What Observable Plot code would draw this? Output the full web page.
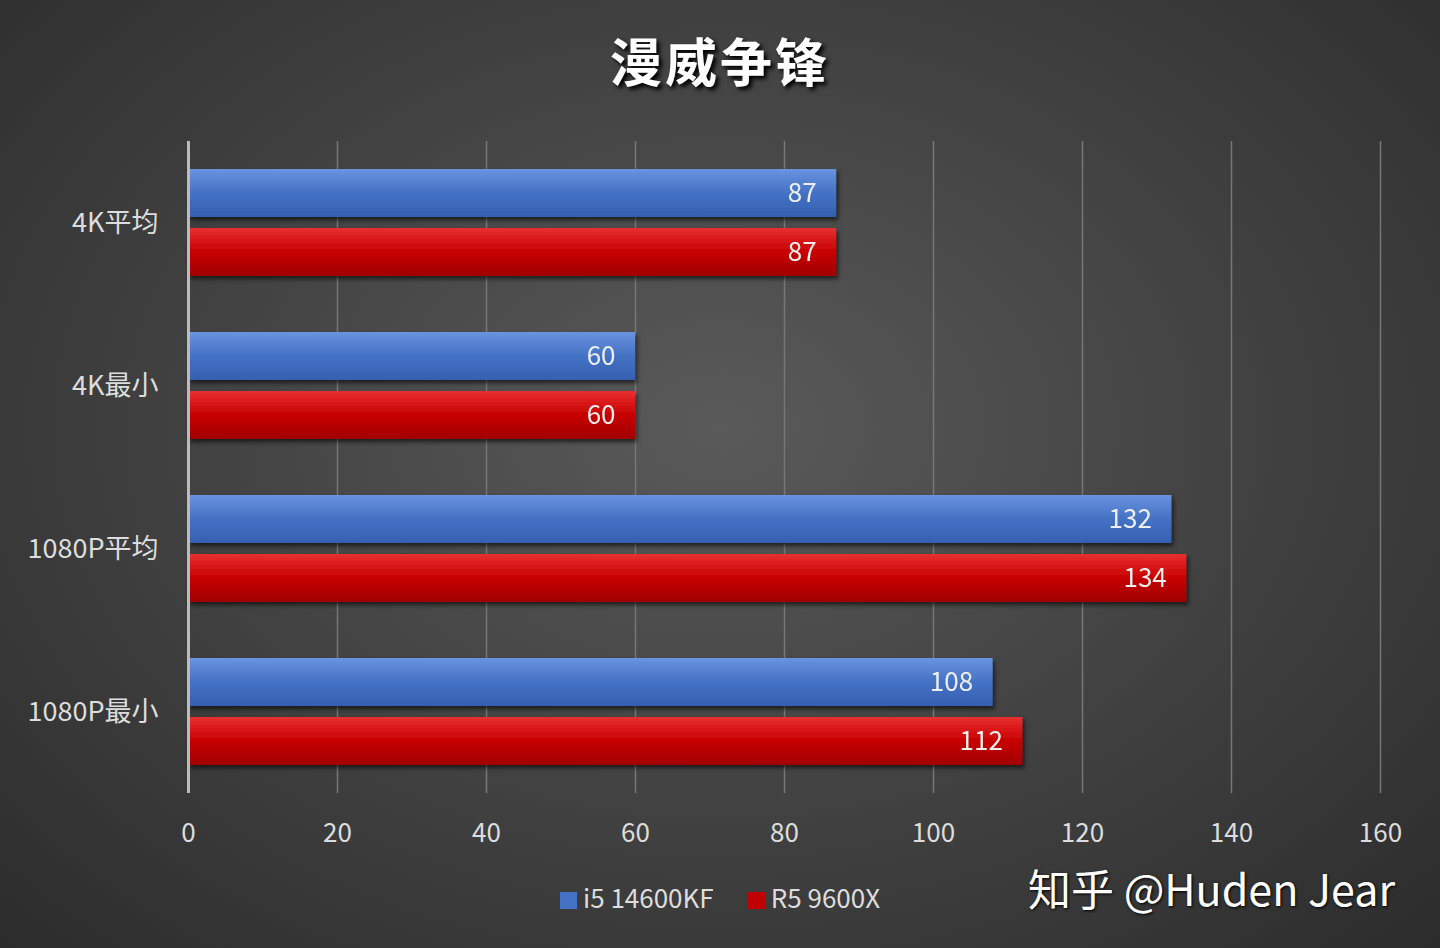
<!DOCTYPE html>
<html><head><meta charset="utf-8">
<script src="https://cdn.jsdelivr.net/npm/d3@7"></script>
<script src="https://cdn.jsdelivr.net/npm/@observablehq/plot@0.6"></script>
<style>
html,body{margin:0;padding:0;width:1440px;height:948px;overflow:hidden;}
body{background:radial-gradient(ellipse at 50% 45%,#5a5a5a 0%,#474747 40%,#2c2c2c 100%);font-family:"Noto Sans CJK SC","Noto Sans",sans-serif;position:relative;}
#chart{position:absolute;left:0;top:0;}
#title{position:absolute;top:22px;left:0;width:1440px;text-align:center;color:#fff;font-size:52px;font-weight:bold;text-shadow:3px 3px 4px #000;letter-spacing:3px;}
#legend{position:absolute;top:878px;left:560px;color:#ddd;font-size:26px;display:flex;gap:34px;align-items:center;}
#legend span.sw{display:inline-block;width:17px;height:17px;margin-right:6px;vertical-align:middle;}
#wm{position:absolute;top:856px;left:1028px;color:#fff;font-size:43px;text-shadow:1px 1px 3px #000;}
</style></head><body>
<div id="chart"></div>
<div id="title">漫威争锋</div>
<div id="legend"><div><span class="sw" style="background:#4472c4"></span>i5 14600KF</div><div><span class="sw" style="background:#c00000"></span>R5 9600X</div></div>
<div id="wm">知乎 @Huden Jear</div>
<script>
const categories = ["4K平均","4K最小","1080P平均","1080P最小"];
const series = ["i5 14600KF","R5 9600X"];
const i5Values = [87,60,132,108];
const r5Values = [87,60,134,112];
const xTicks = [0,20,40,60,80,100,120,140,160];
const data = [];
categories.forEach((c,i)=>{data.push({cat:c,s:series[0],v:i5Values[i]});data.push({cat:c,s:series[1],v:r5Values[i]});});
const plot = Plot.plot({
  width:1440,height:948,marginLeft:188,marginRight:60,marginTop:141,marginBottom:155,
  style:{background:"transparent",color:"#ddd",fontFamily:"'Noto Sans CJK SC','Noto Sans',sans-serif"},
  x:{domain:[0,160],ticks:xTicks,label:null,tickSize:0,tickPadding:30,tickFormat:d=>d},
  fy:{domain:categories,padding:0,label:null},
  y:{domain:series,paddingInner:0.186,paddingOuter:0.47,axis:null},
  marks:[
    Plot.gridX(xTicks.slice(1),{stroke:"#777",strokeOpacity:1,strokeWidth:1.5}),
    Plot.barX(data,{fy:"cat",y:"s",x:"v",fill:d=>d.s===series[0]?"url(#gb)":"url(#gr)"}),
    Plot.text(data,{fy:"cat",y:"s",x:"v",text:d=>String(d.v),textAnchor:"end",dx:-20,fill:"#eee",fontSize:26}),
    Plot.axisFy({anchor:"left",tickSize:0,tickPadding:30,fontSize:27,fill:"#ddd"}),
    Plot.ruleX([0],{stroke:"#bbb",strokeWidth:3})
  ]
});
plot.querySelectorAll("g[aria-label='x-axis tick label'] text, g[aria-label='x-axis tick label']").forEach(e=>e.setAttribute("font-size","26"));
const ns="http://www.w3.org/2000/svg";
const defs=document.createElementNS(ns,"defs");
defs.innerHTML=`<linearGradient id="gb" x1="0" y1="0" x2="0" y2="1"><stop offset="0" stop-color="#6a93e0"/><stop offset="0.5" stop-color="#4472c4"/><stop offset="1" stop-color="#3560b0"/></linearGradient>
<linearGradient id="gr" x1="0" y1="0" x2="0" y2="1"><stop offset="0" stop-color="#e83030"/><stop offset="0.5" stop-color="#c80000"/><stop offset="1" stop-color="#a00000"/></linearGradient>
<filter id="sh"><feDropShadow dx="2" dy="3" stdDeviation="2" flood-color="#000" flood-opacity="0.6"/></filter>`;
plot.insertBefore(defs,plot.firstChild);
plot.querySelectorAll("g[aria-label='bar']").forEach(g=>g.setAttribute("filter","url(#sh)"));
document.getElementById("chart").appendChild(plot);
</script></body></html>
